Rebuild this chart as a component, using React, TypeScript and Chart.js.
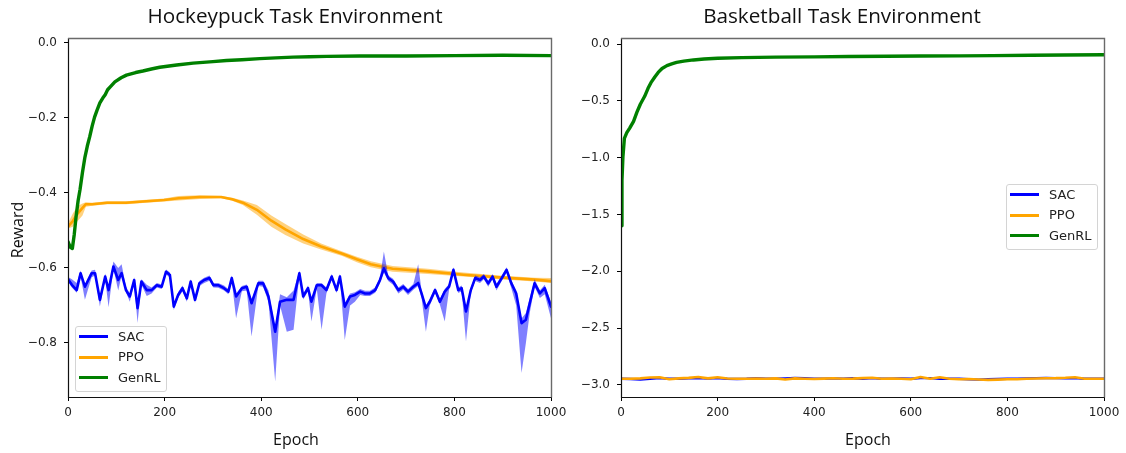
import React, { useEffect, useRef } from 'react';
import { Chart, registerables } from 'chart.js';

Chart.register(...registerables);

// ---------------- shared axis data ----------------
const seriesNames = ['SAC', 'PPO', 'GenRL'];
const xTicks = [0, 200, 400, 600, 800, 1000];
const hockeyYTicks = [-0.8, -0.6, -0.4, -0.2, 0.0];
const basketYTicks = [-3.0, -2.5, -2.0, -1.5, -1.0, -0.5, 0.0];
const hockeyYRange = [-0.944, 0.013];
const basketYRange = [-3.106, 0.053];

// ---------------- Hockeypuck: SAC ----------------
const hockeySacEpochs = [
  0, 8, 18, 26, 35, 49, 56, 66,
  77, 84, 94, 104, 111, 120, 128, 137,
  144, 152, 163, 173, 184, 194, 203, 211,
  219, 228, 237, 246, 254, 263, 272, 282,
  293, 301, 311, 323, 332, 339, 348, 360,
  370, 380, 394, 404, 415, 429, 439, 453,
  467, 479, 487, 497, 504, 515, 525, 535,
  546, 556, 563, 573, 584, 594, 605, 615,
  625, 636, 646, 654, 663, 673, 684, 694,
  704, 715, 725, 732, 741, 749, 760, 770,
  780, 789, 798, 808, 815, 824, 834, 843,
  853, 861, 870, 879, 887, 898, 908, 918,
  928, 939, 948, 956, 966, 977, 987, 1000,
];
const hockeySacMean = [
  -0.630, -0.645, -0.659, -0.614, -0.650, -0.614, -0.614, -0.685,
  -0.623, -0.659, -0.596, -0.632, -0.614, -0.659, -0.676, -0.632,
  -0.707, -0.636, -0.659, -0.659, -0.646, -0.650, -0.610, -0.619,
  -0.703, -0.672, -0.654, -0.681, -0.636, -0.685, -0.641, -0.632,
  -0.627, -0.646, -0.646, -0.654, -0.663, -0.627, -0.676, -0.654,
  -0.650, -0.694, -0.641, -0.641, -0.676, -0.770, -0.690, -0.685,
  -0.685, -0.614, -0.676, -0.654, -0.690, -0.646, -0.646, -0.659,
  -0.623, -0.659, -0.623, -0.703, -0.676, -0.672, -0.663, -0.668,
  -0.668, -0.659, -0.632, -0.601, -0.627, -0.636, -0.659, -0.650,
  -0.663, -0.650, -0.640, -0.668, -0.707, -0.690, -0.659, -0.690,
  -0.663, -0.650, -0.605, -0.659, -0.654, -0.716, -0.659, -0.627,
  -0.632, -0.623, -0.641, -0.623, -0.650, -0.627, -0.605, -0.641,
  -0.668, -0.747, -0.738, -0.694, -0.641, -0.668, -0.654, -0.703,
];
const hockeySacLow = [
  -0.636, -0.652, -0.666, -0.622, -0.685, -0.625, -0.620, -0.703,
  -0.630, -0.705, -0.603, -0.660, -0.620, -0.665, -0.690, -0.640,
  -0.747, -0.645, -0.675, -0.668, -0.652, -0.656, -0.617, -0.626,
  -0.712, -0.680, -0.662, -0.690, -0.643, -0.693, -0.648, -0.640,
  -0.634, -0.652, -0.653, -0.660, -0.670, -0.634, -0.734, -0.662,
  -0.660, -0.783, -0.648, -0.650, -0.690, -0.903, -0.700, -0.770,
  -0.765, -0.620, -0.684, -0.662, -0.743, -0.655, -0.765, -0.668,
  -0.630, -0.667, -0.630, -0.792, -0.700, -0.690, -0.672, -0.675,
  -0.675, -0.666, -0.640, -0.612, -0.635, -0.645, -0.668, -0.658,
  -0.672, -0.658, -0.648, -0.680, -0.770, -0.700, -0.667, -0.698,
  -0.743, -0.658, -0.613, -0.667, -0.662, -0.796, -0.667, -0.635,
  -0.640, -0.630, -0.650, -0.630, -0.660, -0.635, -0.613, -0.655,
  -0.700, -0.880, -0.800, -0.720, -0.650, -0.680, -0.670, -0.734,
];
const hockeySacHigh = [
  -0.624, -0.630, -0.640, -0.607, -0.644, -0.607, -0.605, -0.678,
  -0.615, -0.652, -0.583, -0.600, -0.590, -0.650, -0.668, -0.625,
  -0.700, -0.630, -0.645, -0.652, -0.640, -0.644, -0.604, -0.612,
  -0.696, -0.665, -0.647, -0.674, -0.630, -0.678, -0.635, -0.626,
  -0.620, -0.640, -0.640, -0.647, -0.656, -0.620, -0.669, -0.648,
  -0.644, -0.686, -0.634, -0.634, -0.660, -0.760, -0.670, -0.678,
  -0.660, -0.607, -0.668, -0.647, -0.683, -0.640, -0.640, -0.652,
  -0.616, -0.652, -0.616, -0.695, -0.668, -0.665, -0.656, -0.661,
  -0.661, -0.652, -0.625, -0.556, -0.620, -0.629, -0.652, -0.643,
  -0.656, -0.643, -0.590, -0.660, -0.700, -0.683, -0.652, -0.683,
  -0.656, -0.643, -0.598, -0.652, -0.647, -0.708, -0.652, -0.620,
  -0.625, -0.616, -0.634, -0.616, -0.643, -0.620, -0.598, -0.634,
  -0.660, -0.735, -0.720, -0.680, -0.630, -0.660, -0.645, -0.690,
];

// ---------------- Hockeypuck: PPO ----------------
const hockeyPpoEpochs = [
  0, 10, 20, 30, 37, 50, 81, 120, 155, 199,
  229, 273, 317, 340, 362, 391, 421, 450, 487, 524,
  568, 598, 627, 672, 745, 819, 893, 967, 1000,
];
const hockeyPpoMean = [
  -0.490, -0.475, -0.455, -0.440, -0.430, -0.430, -0.426, -0.426, -0.423, -0.419,
  -0.414, -0.411, -0.411, -0.417, -0.426, -0.445, -0.474, -0.497, -0.523, -0.543,
  -0.562, -0.577, -0.590, -0.602, -0.609, -0.618, -0.625, -0.631, -0.635,
];
const hockeyPpoLow = [
  -0.495, -0.490, -0.475, -0.460, -0.437, -0.434, -0.430, -0.430, -0.427, -0.423,
  -0.420, -0.416, -0.414, -0.421, -0.432, -0.458, -0.490, -0.512, -0.535, -0.551,
  -0.568, -0.585, -0.598, -0.610, -0.616, -0.623, -0.630, -0.636, -0.640,
];
const hockeyPpoHigh = [
  -0.480, -0.455, -0.435, -0.428, -0.425, -0.426, -0.422, -0.422, -0.419, -0.415,
  -0.408, -0.406, -0.408, -0.413, -0.420, -0.432, -0.460, -0.483, -0.511, -0.535,
  -0.556, -0.570, -0.582, -0.595, -0.602, -0.612, -0.620, -0.626, -0.627,
];

// ---------------- Hockeypuck: GenRL ----------------
const hockeyGenEpochs = [
  0, 5, 9, 13, 17, 21, 25, 30, 35, 40,
  45, 50, 55, 60, 66, 72, 77, 82, 87, 97,
  110, 121, 140, 155, 175, 190, 225, 259, 300, 328,
  360, 397, 430, 466, 500, 536, 604, 700, 800, 900, 1000,
];
const hockeyGenMean = [
  -0.530, -0.545, -0.548, -0.510, -0.460, -0.420, -0.390, -0.345, -0.305, -0.275,
  -0.250, -0.222, -0.198, -0.180, -0.160, -0.147, -0.138, -0.125, -0.118, -0.104,
  -0.093, -0.086, -0.079, -0.075, -0.069, -0.065, -0.059, -0.054, -0.050, -0.047,
  -0.045, -0.042, -0.040, -0.038, -0.037, -0.036, -0.035, -0.035, -0.034, -0.033, -0.034,
];

// ---------------- Basketball: GenRL ----------------
const basketGenEpochs = [
  0, 2, 4, 7, 12, 18, 26, 33, 40, 49,
  56, 62, 70, 77, 85, 95, 105, 115, 130, 150,
  172, 200, 250, 321, 400, 471, 550, 620, 700, 770,
  850, 919, 1000,
];
const basketGenMean = [
  -1.60, -1.20, -0.99, -0.83, -0.78, -0.74, -0.68, -0.60, -0.53, -0.46,
  -0.39, -0.34, -0.29, -0.25, -0.215, -0.19, -0.175, -0.162, -0.15, -0.14,
  -0.132, -0.125, -0.12, -0.115, -0.113, -0.11, -0.108, -0.106, -0.104, -0.102,
  -0.099, -0.096, -0.094,
];

// ---------------- Basketball: SAC / PPO ----------------
const basketEpochs = [
  0, 20, 40, 60, 80, 100, 120, 140, 160, 180,
  200, 220, 240, 260, 280, 300, 320, 340, 360, 380,
  400, 420, 440, 460, 480, 500, 520, 540, 560, 580,
  600, 620, 640, 660, 680, 700, 720, 740, 760, 780,
  800, 820, 840, 860, 880, 900, 920, 940, 960, 980,
  1000,
];
const basketPpoMean = [
  -2.945, -2.945, -2.942, -2.935, -2.932, -2.950, -2.942, -2.938, -2.930, -2.942,
  -2.932, -2.943, -2.946, -2.945, -2.944, -2.945, -2.942, -2.952, -2.942, -2.945,
  -2.948, -2.944, -2.941, -2.945, -2.944, -2.940, -2.937, -2.945, -2.943, -2.945,
  -2.950, -2.930, -2.945, -2.932, -2.945, -2.950, -2.948, -2.952, -2.955, -2.953,
  -2.950, -2.950, -2.946, -2.943, -2.941, -2.940, -2.937, -2.932, -2.945, -2.946,
  -2.945,
];
const basketSacMean = [
  -2.945, -2.948, -2.952, -2.946, -2.940, -2.946, -2.945, -2.941, -2.940, -2.943,
  -2.940, -2.945, -2.948, -2.946, -2.941, -2.945, -2.946, -2.942, -2.938, -2.941,
  -2.945, -2.945, -2.942, -2.945, -2.941, -2.945, -2.940, -2.945, -2.946, -2.942,
  -2.945, -2.940, -2.940, -2.945, -2.946, -2.946, -2.950, -2.953, -2.950, -2.948,
  -2.946, -2.945, -2.942, -2.940, -2.938, -2.940, -2.942, -2.940, -2.945, -2.946,
  -2.945,
];

// ---------------- colours ----------------
const SAC_COLOR = '#0000ff';
const SAC_FILL = 'rgba(0, 0, 255, 0.5)';
const PPO_COLOR = '#ffa500';
const PPO_FILL = 'rgba(255, 165, 0, 0.5)';
const GEN_COLOR = '#008000';
const seriesColors = [SAC_COLOR, PPO_COLOR, GEN_COLOR];

const pts = (xs: number[], ys: number[]) => xs.map((x, i) => ({ x, y: ys[i] }));

function lineSet(label: string, xs: number[], ys: number[], color: string, width: number, order: number) {
  return {
    label,
    data: pts(xs, ys),
    borderColor: color,
    backgroundColor: color,
    borderWidth: width,
    pointRadius: 0,
    fill: false,
    tension: 0,
    borderJoinStyle: 'round',
    borderCapStyle: 'round',
    order,
  };
}

function bandSets(label: string, xs: number[], low: number[], high: number[], fillColor: string, order: number) {
  return [
    {
      label: label + ' low',
      data: pts(xs, low),
      borderWidth: 0,
      borderColor: 'rgba(0,0,0,0)',
      pointRadius: 0,
      fill: false,
      tension: 0,
      order,
    },
    {
      label: label + ' high',
      data: pts(xs, high),
      borderWidth: 0,
      borderColor: 'rgba(0,0,0,0)',
      backgroundColor: fillColor,
      pointRadius: 0,
      fill: '-1',
      tension: 0,
      order,
    },
  ];
}

const framePlugin = {
  id: 'frame',
  afterDatasetsDraw(chart: any) {
    const { ctx, chartArea } = chart;
    const { left, right, top, bottom } = chartArea;
    ctx.save();
    ctx.lineWidth = 1.2;
    ctx.strokeStyle = '#111';
    ctx.beginPath();
    ctx.moveTo(left + 0.5, top);
    ctx.lineTo(left + 0.5, bottom + 0.5);
    ctx.lineTo(right, bottom + 0.5);
    ctx.stroke();
    ctx.lineWidth = 1.4;
    ctx.strokeStyle = '#6a6a6a';
    ctx.beginPath();
    ctx.moveTo(left, top + 0.5);
    ctx.lineTo(right + 0.5, top + 0.5);
    ctx.lineTo(right + 0.5, bottom + 0.5);
    ctx.stroke();
    ctx.restore();
  },
};

const fmtY = (v: any) => {
  const n = Number(v);
  if (Math.abs(n) < 1e-9) return '0.0';
  return n.toFixed(1).replace('-', '\u2212');
};

function makeOptions(yTicks: number[], yRange: number[], yWidth: number, rightPad: number) {
  const tickFont = { family: '"DejaVu Sans", sans-serif', size: 12 };
  const grid = {
    display: true,
    drawOnChartArea: false,
    drawTicks: true,
    tickLength: 4,
    color: '#000',
    lineWidth: 1,
  };
  return {
    responsive: false,
    animation: false,
    events: [],
    layout: { padding: { left: 0, right: rightPad, top: 38, bottom: 0 } },
    plugins: {
      legend: { display: false },
      title: { display: false },
      tooltip: { enabled: false },
      filler: { propagate: false },
    },
    scales: {
      x: {
        type: 'linear',
        min: 0,
        max: 1000,
        afterBuildTicks: (s: any) => {
          s.ticks = xTicks.map((v) => ({ value: v }));
        },
        afterFit: (s: any) => {
          s.height = 56;
        },
        grid,
        border: { display: false },
        ticks: {
          font: tickFont,
          color: '#222',
          padding: 5,
          maxRotation: 0,
          autoSkip: false,
          callback: (v: any) => String(v),
        },
      },
      y: {
        type: 'linear',
        min: yRange[0],
        max: yRange[1],
        afterBuildTicks: (s: any) => {
          s.ticks = yTicks.map((v) => ({ value: v }));
        },
        afterFit: (s: any) => {
          s.width = yWidth;
        },
        grid,
        border: { display: false },
        ticks: {
          font: tickFont,
          color: '#222',
          padding: 7,
          autoSkip: false,
          callback: fmtY,
        },
      },
    },
  };
}

function hockeyConfig(): any {
  const datasets = [
    ...bandSets('SAC', hockeySacEpochs, hockeySacLow, hockeySacHigh, SAC_FILL, 4),
    lineSet('SAC', hockeySacEpochs, hockeySacMean, SAC_COLOR, 2.6, 3),
    ...bandSets('PPO', hockeyPpoEpochs, hockeyPpoLow, hockeyPpoHigh, PPO_FILL, 6),
    lineSet('PPO', hockeyPpoEpochs, hockeyPpoMean, PPO_COLOR, 2.6, 5),
    lineSet('GenRL', hockeyGenEpochs, hockeyGenMean, GEN_COLOR, 3.4, 1),
  ];
  return {
    type: 'line',
    data: { datasets },
    options: makeOptions(hockeyYTicks, hockeyYRange, 68, 24),
    plugins: [framePlugin],
  };
}

function basketConfig(): any {
  const datasets = [
    lineSet('SAC', basketEpochs, basketSacMean, SAC_COLOR, 2.4, 5),
    lineSet('PPO', basketEpochs, basketPpoMean, PPO_COLOR, 2.6, 3),
    lineSet('GenRL', basketGenEpochs, basketGenMean, GEN_COLOR, 3.4, 1),
  ];
  return {
    type: 'line',
    data: { datasets },
    options: makeOptions(basketYTicks, basketYRange, 61, 22),
    plugins: [framePlugin],
  };
}

function PlotCanvas({ build, left, width }: { build: () => any; left: number; width: number }) {
  const ref = useRef<HTMLCanvasElement>(null);
  useEffect(() => {
    if (!ref.current) return;
    const chart = new Chart(ref.current, build());
    return () => chart.destroy();
  }, []);
  return (
    <canvas
      ref={ref}
      width={width}
      height={453}
      style={{ position: 'absolute', left, top: 0, width, height: 453 }}
    />
  );
}

function Legend({ left, top }: { left: number; top: number }) {
  const rows = [10.5, 31.2, 51.8];
  return (
    <div
      style={{
        position: 'absolute',
        left,
        top,
        width: 92,
        height: 66,
        boxSizing: 'border-box',
        border: '1px solid #d4d4d4',
        borderRadius: 3,
        background: 'rgba(255,255,255,0.8)',
      }}
    >
      {seriesNames.map((name, i) => (
        <React.Fragment key={name}>
          <div
            style={{
              position: 'absolute',
              left: 3,
              top: rows[i] - 1.5 - 1,
              width: 29,
              height: 3,
              background: seriesColors[i],
            }}
          />
          <div
            style={{
              position: 'absolute',
              left: 42,
              top: rows[i] - 10 - 1,
              height: 20,
              lineHeight: '20px',
              fontFamily: '"DejaVu Sans", sans-serif',
              fontSize: 13,
              color: '#222',
              whiteSpace: 'nowrap',
            }}
          >
            {name}
          </div>
        </React.Fragment>
      ))}
    </div>
  );
}

const titleStyle: React.CSSProperties = {
  position: 'absolute',
  width: 400,
  textAlign: 'center',
  fontFamily: '"Open Sans", sans-serif',
  fontSize: 20.7,
  lineHeight: '24px',
  height: 24,
  color: '#111',
  whiteSpace: 'nowrap',
};

const axisTitleStyle: React.CSSProperties = {
  position: 'absolute',
  width: 120,
  textAlign: 'center',
  fontFamily: '"Open Sans", sans-serif',
  fontSize: 16,
  lineHeight: '20px',
  height: 20,
  color: '#111',
  whiteSpace: 'nowrap',
};

export default function App() {
  return (
    <div
      style={{
        position: 'absolute',
        left: 0,
        top: 0,
        width: 1126,
        height: 453,
        background: '#fff',
        overflow: 'hidden',
      }}
    >
      <PlotCanvas build={hockeyConfig} left={0} width={575} />
      <PlotCanvas build={basketConfig} left={560} width={566} />

      <div style={{ ...titleStyle, left: 295 - 200, top: 3 }}>Hockeypuck Task Environment</div>
      <div style={{ ...titleStyle, left: 842 - 200, top: 3 }}>Basketball Task Environment</div>

      <div style={{ ...axisTitleStyle, left: 296 - 60, top: 428.5 }}>Epoch</div>
      <div style={{ ...axisTitleStyle, left: 868 - 60, top: 428.5 }}>Epoch</div>
      <div
        style={{
          ...axisTitleStyle,
          left: 16.5 - 60,
          top: 230 - 10,
          transform: 'rotate(-90deg)',
          transformOrigin: '50% 50%',
        }}
      >
        Reward
      </div>

      <Legend left={75} top={326} />
      <Legend left={1006} top={184} />
    </div>
  );
}
